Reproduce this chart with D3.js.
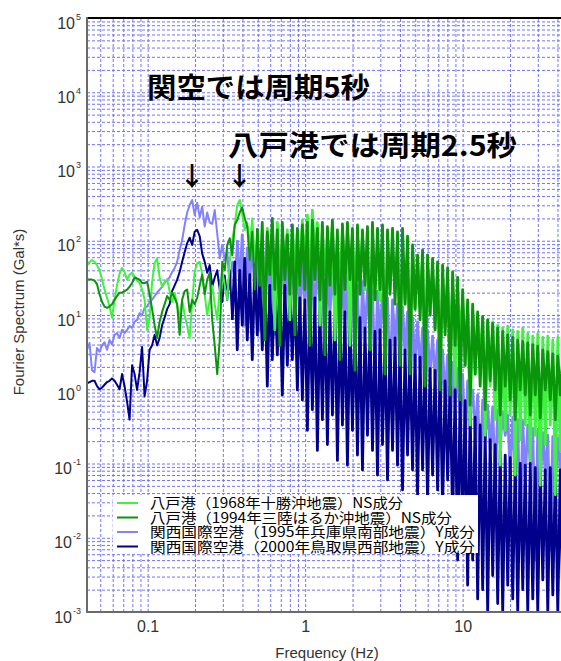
<!DOCTYPE html>
<html>
<head>
<meta charset="utf-8">
<script src="https://cdn.jsdelivr.net/npm/d3@7"></script>
<style>
  html, body { margin: 0; padding: 0; background: #fff; }
  svg { display: block; }
</style>
</head>
<body>
<svg id="chart" width="561" height="661"></svg>
<script>
// Fourier amplitude spectra (Gal*s), resampled on a log-spaced frequency grid.
const FREQ_MIN = 0.0412;       // Hz, first sample
const FREQ_LOG_STEP = 0.0159;  // decades between samples
const N_SAMPLES = 195;
const frequencyHz = d3.range(N_SAMPLES).map(i => FREQ_MIN * Math.pow(10, i * FREQ_LOG_STEP));

// 八戸港 (1968年十勝沖地震) NS成分
const hachinohe1968 = [
  46,52,55,52,47,40,30,22,17,13,
  9.2,16,25,36,43,38,30,35,37,33,
  29,27,22,16,6.3,9.2,28,50,58,32,
  24,28,30,21,15,20,13.5,9.2,16,10,
  7.1,4.9,15,38,50,52,35,19,10,16,
  25,14,8.6,22,40,25,16,52,102,163,
  303,354,222,140,176,88,200,55,132,30,
  102,22,147,47,120,6.3,176,35,108,58,
  140,8.6,163,40,132,25,190,52,222,16,
  259,64,176,7.3,147,35,120,52,163,4.6,
  102,30,132,43,88,3.9,120,25,102,40,
  108,22,88,3.4,102,30,75,16,95,2.9,
  80,22,70,25,88,3.9,75,14,64,2.5,
  70,12,55,16,58,2.1,47,10,43,6.3,
  38,1.3,35,7.3,30,4.6,25,1.1,22,5.4,
  17,2.1,14,0.33,12,1.6,10,2.5,9.2,0.24,
  8.6,1.1,8.1,0.39,7.3,0.095,6.7,0.28,7.1,0.45,
  6.3,0.070,6.0,0.21,6.7,0.33,5.6,0.11,5.2,0.24,
  5.6,0.051,5.0,0.18,5.2,0.33,4.6,0.038,5.0,0.15,
  4.4,0.24,4.6,0.060,4.2
];

// 八戸港 (1994年三陸はるか沖地震) NS成分
const hachinohe1994 = [
  30,30,30,29,26,19,15,13,12.5,13,
  14,16,18,20,20,21,22,24,27,32,
  31,30,27,27,28,19,12,7.3,4.9,8.1,
  11,14,18,16,20,17,14,5.4,16,21,
  22,11,16,14,17,25,35,19,30,37,
  8.6,3.9,1.6,4.6,52,40,88,108,64,163,
  190,240,280,200,155,55,132,22,147,25,
  176,4.6,132,35,200,22,140,3.9,176,30,
  120,19,163,5.4,147,25,163,22,176,3.9,
  190,30,147,16,176,2.9,155,25,190,19,
  140,2.5,169,22,176,30,147,1.8,163,19,
  140,25,155,3.4,176,16,147,22,163,1.6,
  140,19,147,14,132,2.1,147,14,115,1.6,
  88,12,64,8.6,75,1.1,64,10,58,6.3,
  52,0.98,47,5.4,43,0.84,38,3.9,32,0.72,
  22,2.1,16,0.61,14,1.6,11,1.1,9.6,0.53,
  8.6,1.3,7.7,0.98,6.7,0.45,6.0,1.1,5.4,0.72,
  5.0,0.39,4.6,0.98,4.4,0.84,4.2,0.45,4.0,0.84,
  3.8,0.41,3.4,0.98,3.2,0.72,3.0,0.39,2.8,0.84,
  2.7,0.61,2.6,0.45,2.5
];

// 関西国際空港 (1995年兵庫県南部地震) Y成分
const kansai1995 = [
  3.4,4.2,1.8,1.7,3.6,3.2,3.9,4.3,3.4,4.6,
  4.0,5.4,5.7,4.9,6.3,5.7,6.3,7.1,6.7,8.1,
  8.6,10.6,10,12.5,13,15,16,18,20,22,
  24,27,30,32,38,43,52,75,102,163,
  240,303,354,222,325,206,290,155,240,176,
  169,259,126,58,88,55,75,22,52,30,
  102,25,120,7.3,80,30,95,19,75,6.3,
  88,25,64,16,75,5.4,58,22,70,16,
  55,6.3,64,19,52,7.3,58,14,52,2.9,
  47,12,43,16,40,2.1,47,10,38,12,
  35,2.5,40,8.6,32,1.8,30,7.3,25,1.6,
  28,5.4,23,6.3,22,1.1,21,4.6,19,6.3,
  17,0.98,16,3.9,14,1.3,13,2.9,11,0.61,
  9.2,2.1,8.1,1.8,6.7,0.45,6.0,1.6,5.2,1.3,
  4.6,0.39,3.4,0.72,2.9,0.21,2.3,0.61,1.9,0.45,
  1.6,0.15,1.3,0.53,0.98,0.24,0.84,0.060,0.72,0.21,
  0.61,0.15,0.58,0.051,0.53,0.18,0.50,0.24,0.45,0.070,
  0.42,0.082,0.39,0.0093,0.37,0.060,0.33,0.095,0.30,0.0050,
  0.28,0.051,0.26,0.070,0.24,0.0068,0.23,0.044,0.22,0.082,
  0.21,0.0031,0.21,0.051,0.20
];

// 関西国際空港 (2000年鳥取県西部地震) Y成分
const kansai2000 = [
  1.2,1.25,1.3,1.3,1.1,1.0,1.05,1.15,1.25,1.3,
  1.4,1.3,1.15,1.0,1.6,1.1,0.68,0.39,2.1,1.6,
  0.98,1.7,3.7,0.8,1.3,3.4,3.9,5.4,3.9,4.9,
  7.3,9.2,12,14,21,25,30,38,52,70,
  93,110,88,132,140,115,67,52,37,47,
  24,32,40,22,15,34,16,40,8.6,52,
  3.4,40,7.3,58,4.6,35,2.5,47,5.4,30,
  3.4,35,1.1,25,2.5,30,2.9,22,0.84,25,
  2.1,19,2.5,22,0.98,17,0.72,16,0.28,14,
  0.53,17,0.15,13,0.39,15,0.18,11,0.45,13,
  0.11,10,0.33,11,0.095,9.2,0.28,8.1,0.13,9.2,
  0.082,6.7,0.24,7.3,0.15,6.0,0.070,6.3,0.18,5.4,
  0.060,4.6,0.15,4.9,0.095,3.9,0.044,3.4,0.13,3.2,
  0.082,2.9,0.038,2.7,0.082,2.3,0.032,1.9,0.070,1.8,
  0.044,1.6,0.024,1.3,0.060,1.1,0.017,0.98,0.0050,0.84,
  0.0093,0.70,0.0023,0.53,0.0050,0.42,0.0015,0.33,0.0020,0.26,
  0.001,0.21,0.0031,0.18,0.0013,0.15,0.001,0.13,0.0023,0.12,
  0.0015,0.11,0.001,0.10,0.0020,0.095,0.001,0.10,0.0015,0.088,
  0.001,0.095,0.0027,0.082,0.001,0.088,0.0017,0.078,0.001,0.082,
  0.0013,0.070,0.001,0.078,0.0015
];

const legendLabels = [
  "八戸港（1968年十勝沖地震）NS成分",
  "八戸港（1994年三陸はるか沖地震）NS成分",
  "関西国際空港（1995年兵庫県南部地震）Y成分",
  "関西国際空港（2000年鳥取県西部地震）Y成分"
];
const seriesColors = ["#3ef23e", "#0a960a", "#8282ff", "#00008c"];
const seriesValues = [hachinohe1968, hachinohe1994, kansai1995, kansai2000];
// sample index where each spectrum turns into a dense band
const denseFrom = [71, 68, 60, 58];

const xTickValues = [0.1, 1, 10];
const yTickValues = [1e-3, 1e-2, 1e-1, 1e0, 1e1, 1e2, 1e3, 1e4, 1e5];
const xAxisTitle = "Frequency (Hz)";
const yAxisTitle = "Fourier Spectrum (Gal*s)";
const noteKansai = "関空では周期5秒";
const noteHachinohe = "八戸港では周期2.5秒";

// ---- layout ----
const W = 561, H = 661;
const plotLeft = 87, plotTop = 18, plotBottom = 612;
const decadePx = 157.5;
const xMax = 50;
const plotRight = plotLeft + decadePx * Math.log10(xMax / FREQ_MIN);

const svg = d3.select("#chart");
const x = d3.scaleLog().domain([FREQ_MIN, xMax]).range([plotLeft, plotRight]);
const y = d3.scaleLog().domain([1e-3, 1e5]).range([plotBottom, plotTop]);

// minor + major grid positions
const xGrid = [];
for (let d = -2; d <= 1; d++) for (let k = 1; k <= 9; k++) {
  const v = k * Math.pow(10, d);
  if (v > FREQ_MIN * 1.001 && v <= xMax) xGrid.push(v);
}
const yGrid = [];
for (let d = -3; d <= 4; d++) for (let k = 1; k <= 9; k++) {
  const v = k * Math.pow(10, d);
  if (v > 1e-3 * 1.001) yGrid.push(v);
}

const gridColor = "#7272ff";
svg.append("g")
  .attr("transform", `translate(0,${plotBottom})`)
  .call(d3.axisBottom(x).tickValues(xGrid).tickSize(-(plotBottom - plotTop)).tickFormat(""))
  .call(g => g.select(".domain").remove())
  .selectAll("line")
  .attr("stroke", gridColor).attr("stroke-width", 1).attr("stroke-dasharray", "3,2");

svg.append("g")
  .attr("transform", `translate(${plotLeft},0)`)
  .call(d3.axisLeft(y).tickValues(yGrid).tickSize(-(W - plotLeft)).tickFormat(""))
  .call(g => g.select(".domain").remove())
  .selectAll("line")
  .attr("stroke", gridColor).attr("stroke-width", 1).attr("stroke-dasharray", "3,2");

// ---- spectra ----
svg.append("defs").append("clipPath").attr("id", "plotClip")
  .append("rect").attr("x", plotLeft).attr("y", plotTop)
  .attr("width", plotRight - plotLeft).attr("height", plotBottom - plotTop);

const drawOrder = [2, 3, 0, 1];
const plotG = svg.append("g").attr("clip-path", "url(#plotClip)");
drawOrder.forEach(s => {
  const vals = seriesValues[s];
  const line = d3.line()
    .x(i => x(frequencyHz[i]))
    .y(i => y(vals[i]));
  // smooth low-frequency part, then the densely oscillating part
  [[0, denseFrom[s] + 1, 2], [denseFrom[s], vals.length, 2.8]].forEach(([a, b, w]) => {
    plotG.append("path")
      .datum(d3.range(a, b))
      .attr("d", line)
      .attr("fill", "none")
      .attr("stroke", seriesColors[s])
      .attr("stroke-width", w)
      .attr("stroke-linejoin", "round");
  });
});

// ---- frame ----
svg.append("line").attr("x1", plotLeft).attr("x2", W).attr("y1", plotTop).attr("y2", plotTop)
  .attr("stroke", "#000").attr("stroke-width", 2);
svg.append("line").attr("x1", plotLeft).attr("x2", plotLeft).attr("y1", plotTop - 1).attr("y2", plotBottom + 1)
  .attr("stroke", "#6a6a6a").attr("stroke-width", 2);
svg.append("line").attr("x1", plotLeft).attr("x2", W).attr("y1", plotBottom).attr("y2", plotBottom)
  .attr("stroke", "#6a6a6a").attr("stroke-width", 2);

// ---- axes labels ----
const tickFont = "'Liberation Sans', Arial, sans-serif";
const xAxisG = svg.append("g")
  .attr("transform", `translate(0,${plotBottom})`)
  .call(d3.axisBottom(x).tickValues(xTickValues).tickSize(0).tickPadding(0)
    .tickFormat(d => d3.format("~g")(d)));
xAxisG.select(".domain").remove();
xAxisG.selectAll("text")
  .attr("y", 20).attr("dy", 0)
  .attr("font-family", tickFont).attr("font-size", 16).attr("fill", "#333");

const yAxisG = svg.append("g")
  .attr("transform", `translate(${plotLeft},0)`)
  .call(d3.axisLeft(y).tickValues(yTickValues).tickSize(0).tickPadding(6).tickFormat(""));
yAxisG.select(".domain").remove();
yAxisG.selectAll(".tick text").each(function(d) {
  const t = d3.select(this)
    .attr("dy", 10)
    .attr("font-family", tickFont).attr("font-size", 16).attr("fill", "#333");
  t.append("tspan").text("10");
  t.append("tspan").attr("font-size", 9).attr("dy", -9).attr("dx", 1)
    .text(Math.round(Math.log10(d)));
});

svg.append("text")
  .attr("x", (plotLeft + W) / 2 + 3).attr("y", 658)
  .attr("text-anchor", "middle")
  .attr("font-family", tickFont).attr("font-size", 15).attr("fill", "#333")
  .text(xAxisTitle);

svg.append("text")
  .attr("transform", "translate(24,312) rotate(-90)")
  .attr("text-anchor", "middle")
  .attr("font-family", tickFont).attr("font-size", 15).attr("fill", "#333")
  .text(yAxisTitle);

// ---- annotations ----
const jpFont = "'Noto Sans CJK JP', 'Noto Sans CJK SC', sans-serif";
svg.append("text")
  .attr("x", 147).attr("y", 98)
  .attr("font-family", jpFont).attr("font-size", 28).attr("font-weight", 700)
  .attr("textLength", 223).attr("lengthAdjust", "spacingAndGlyphs")
  .text(noteKansai);
svg.append("text")
  .attr("x", 228).attr("y", 156)
  .attr("font-family", jpFont).attr("font-size", 28).attr("font-weight", 700)
  .attr("textLength", 289).attr("lengthAdjust", "spacingAndGlyphs")
  .text(noteHachinohe);
[0.2, 0.4].forEach(f => {
  svg.append("text")
    .attr("x", x(f) - 3).attr("y", 186)
    .attr("text-anchor", "middle")
    .attr("font-family", jpFont).attr("font-size", 26).attr("font-weight", 700)
    .text("↓");
});

// ---- legend ----
const legendG = svg.append("g");
legendG.append("rect")
  .attr("x", 113).attr("y", 495).attr("width", 365).attr("height", 58)
  .attr("fill", "#fff");
const rowY = [503, 517.5, 532, 546.5];
const textLen = [253, 302, 325, 325];
legendLabels.forEach((label, i) => {
  legendG.append("line")
    .attr("x1", 117).attr("x2", 138).attr("y1", rowY[i]).attr("y2", rowY[i])
    .attr("stroke", seriesColors[i]).attr("stroke-width", 2);
  legendG.append("text")
    .attr("x", 150).attr("y", rowY[i] + 5)
    .attr("font-family", jpFont).attr("font-size", 14).attr("fill", "#000")
    .attr("textLength", textLen[i]).attr("lengthAdjust", "spacingAndGlyphs")
    .text(label);
});
</script>
</body>
</html>
